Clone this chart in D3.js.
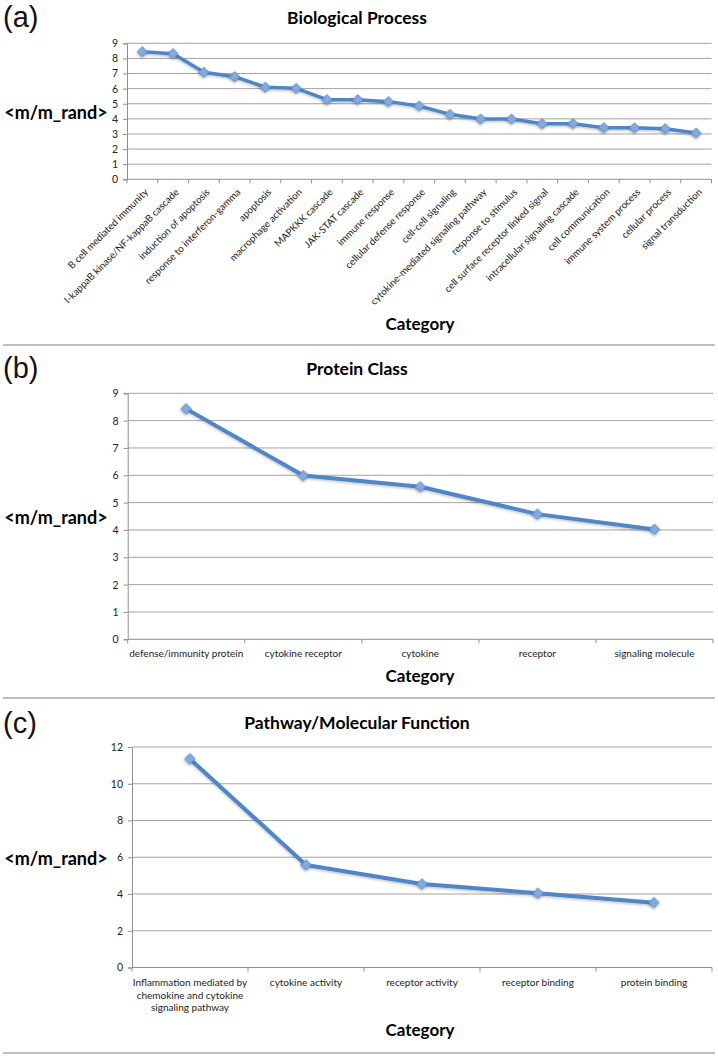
<!DOCTYPE html>
<html><head><meta charset="utf-8">
<script src="https://cdnjs.cloudflare.com/ajax/libs/d3/7.8.5/d3.min.js"></script>
<style>
body{margin:0;background:#fff;}
svg{display:block;}
</style></head>
<body><svg id="c" width="718" height="1057"></svg>
<script>
// ---- data ----
const bpCategories = ["B cell mediated immunity","I-kappaB kinase/NF-kappaB cascade","induction of apoptosis","response to interferon-gamma","apoptosis","macrophage activation","MAPKKK cascade","JAK-STAT cascade","immune response","cellular defense response","cell-cell signaling","cytokine-mediated signaling pathway","response to stimulus","cell surface receptor linked signal","intracellular signaling cascade","cell communication","immune system process","cellular process","signal transduction"];
const bpValues = [8.44,8.31,7.08,6.79,6.09,6.02,5.27,5.27,5.14,4.85,4.30,3.99,3.99,3.68,3.68,3.41,3.41,3.35,3.06];
const bpTicks = [0,1,2,3,4,5,6,7,8,9];

const pcCategories = ["defense/immunity protein","cytokine receptor","cytokine","receptor","signaling molecule"];
const pcValues = [8.43,5.99,5.58,4.58,4.02];
const pcTicks = [0,1,2,3,4,5,6,7,8,9];

const mfCategories = [["Inflammation mediated by","chemokine and cytokine","signaling pathway"],["cytokine activity"],["receptor activity"],["receptor binding"],["protein binding"]];
const mfValues = [11.35,5.58,4.54,4.04,3.53];
const mfTicks = [0,2,4,6,8,10,12];

const panelLetters = ["(a)","(b)","(c)"];
const panelTitles = ["Biological Process","Protein Class","Pathway/Molecular Function"];
const yTitle = "<m/m_rand>";
const xTitle = "Category";

// ---- drawing ----
const svg = d3.select("#c");
const defs = svg.append("defs");
const f = defs.append("filter").attr("id","sh").attr("x","-50%").attr("y","-50%").attr("width","200%").attr("height","200%");
f.append("feDropShadow").attr("dx",0.5).attr("dy",1.2).attr("stdDeviation",0.9).attr("flood-color","#000").attr("flood-opacity",0.35);
const lf = defs.append("filter").attr("id","lsh").attr("x","-5%").attr("y","-20%").attr("width","110%").attr("height","140%");
lf.append("feDropShadow").attr("dx",0).attr("dy",1.5).attr("stdDeviation",1).attr("flood-color","#000").attr("flood-opacity",0.22);

const FONT = "Lato, 'Open Sans', sans-serif";
const LINE = "#4f86c6";

function panel(cfg){
  const g = svg.append("g");
  const x = d3.scaleBand().domain(d3.range(cfg.values.length)).range([cfg.left, cfg.right]);
  const y = d3.scaleLinear().domain([0, cfg.max]).range([cfg.bottom, cfg.top]);

  // letter
  g.append("text").attr("x",3).attr("y",cfg.letterY).attr("font-family","'Liberation Sans', Arial, sans-serif")
    .attr("font-size",29).attr("fill","#111").text(cfg.letter);
  // title
  g.append("text").attr("x",357).attr("y",cfg.titleY).attr("text-anchor","middle").attr("dominant-baseline","central")
    .attr("font-family",FONT).attr("font-weight","bold").attr("font-size",17.5).attr("fill","#000").text(cfg.title);
  // y title
  g.append("text").attr("x",56).attr("y",(cfg.top+cfg.bottom)/2+1).attr("text-anchor","middle").attr("dominant-baseline","central")
    .attr("font-family",FONT).attr("font-weight","bold").attr("font-size",18).attr("fill","#000").text(yTitle);
  // x title
  g.append("text").attr("x",420).attr("y",cfg.catY).attr("text-anchor","middle").attr("dominant-baseline","central")
    .attr("font-family",FONT).attr("font-weight","bold").attr("font-size",17).attr("fill","#000").text(xTitle);

  // grid
  g.append("g").selectAll("line").data(cfg.ticks.filter(t=>t>0)).join("line")
    .attr("x1",cfg.left).attr("x2",cfg.right).attr("y1",d=>y(d)).attr("y2",d=>y(d))
    .attr("stroke","#a3a3a3").attr("stroke-width",1);

  // y axis
  const ya = g.append("g").attr("transform",`translate(${cfg.left},0)`)
    .call(d3.axisLeft(y).tickValues(cfg.ticks).tickSize(4).tickPadding(5).tickFormat(d3.format("d")));
  ya.select(".domain").attr("stroke","#8f8f8f");
  ya.selectAll(".tick line").attr("stroke","#8f8f8f");
  ya.selectAll("text").attr("font-family",FONT).attr("font-size",10.5).attr("fill","#222");

  // x axis line + boundary ticks
  g.append("line").attr("x1",cfg.left).attr("x2",cfg.right).attr("y1",cfg.bottom).attr("y2",cfg.bottom).attr("stroke","#8f8f8f");
  g.append("g").selectAll("line").data(d3.range(cfg.values.length+1)).join("line")
    .attr("x1",d=>cfg.left+d*x.step()).attr("x2",d=>cfg.left+d*x.step())
    .attr("y1",cfg.bottom).attr("y2",cfg.bottom+4).attr("stroke","#8f8f8f");

  // x labels
  const cx = i => x(i)+x.bandwidth()/2;
  if(cfg.rotate){
    g.append("g").selectAll("text").data(cfg.cats).join("text")
      .attr("transform",(d,i)=>`translate(${cx(i)+4},${cfg.bottom+11}) rotate(-45)`)
      .attr("text-anchor","end").attr("dy","0.35em")
      .attr("font-family",FONT).attr("font-size",9.8).attr("fill","#222").text(d=>d);
  } else {
    const lg = g.append("g").selectAll("text").data(cfg.cats).join("text")
      .attr("x",(d,i)=>cx(i)).attr("y",cfg.labelY).attr("text-anchor","middle").attr("dominant-baseline","central")
      .attr("font-family",FONT).attr("font-size",10).attr("fill","#222");
    lg.selectAll("tspan").data(d=>Array.isArray(d)?d:[d]).join("tspan")
      .attr("x",function(){return this.parentNode.getAttribute("x");})
      .attr("dy",(d,i)=>i===0?0:12.5).text(d=>d);
  }

  // line
  const line = d3.line().x((d,i)=>cx(i)).y(d=>y(d));
  g.append("path").datum(cfg.values).attr("d",line).attr("fill","none")
    .attr("stroke",LINE).attr("stroke-width",cfg.lw).attr("stroke-linejoin","round").attr("filter","url(#lsh)");
  // markers
  const sym = d3.symbol().type(d3.symbolSquare).size(cfg.ms);
  g.append("g").selectAll("path").data(cfg.values).join("path")
    .attr("transform",(d,i)=>`translate(${cx(i)},${y(d)}) rotate(45)`)
    .attr("d",sym).attr("fill","#82aadf").attr("stroke","#5f8fd0").attr("stroke-width",0.8).attr("filter","url(#sh)");

  // separator
  g.append("line").attr("x1",3).attr("x2",715).attr("y1",cfg.sepY).attr("y2",cfg.sepY).attr("stroke","#a8a8a8").attr("stroke-width",1.5);
}

panel({letter:panelLetters[0],title:panelTitles[0],cats:bpCategories,values:bpValues,ticks:bpTicks,max:9,
  left:127,right:711.5,top:43.3,bottom:179.3,letterY:27,titleY:17,catY:323,sepY:345,rotate:true,lw:3.5,ms:50});
panel({letter:panelLetters[1],title:panelTitles[1],cats:pcCategories,values:pcValues,ticks:pcTicks,max:9,
  left:127.7,right:713,top:393.3,bottom:639.3,letterY:378,titleY:368,catY:675,sepY:698,rotate:false,labelY:653,lw:4,ms:55});
panel({letter:panelLetters[2],title:panelTitles[2],cats:mfCategories,values:mfValues,ticks:mfTicks,max:12,
  left:132,right:712,top:747,bottom:967.5,letterY:733,titleY:722,catY:1029,sepY:1053,rotate:false,labelY:982,lw:4,ms:55});
</script></body></html>
